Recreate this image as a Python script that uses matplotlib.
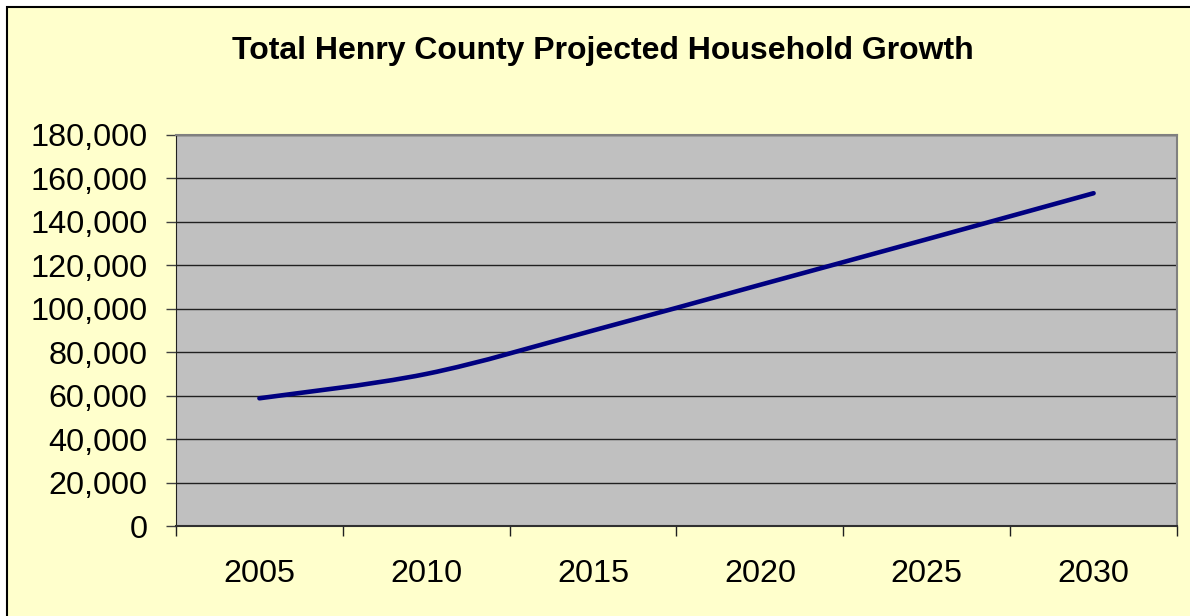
import numpy as np
import matplotlib
matplotlib.use('Agg')
import matplotlib.pyplot as plt
from matplotlib.path import Path
from matplotlib.patches import PathPatch, Rectangle
from matplotlib.ticker import FuncFormatter, FixedLocator

years = ['2005', '2010', '2015', '2020', '2025', '2030']
households = [58800, 70000, 90000, 111000, 132000, 153200]
yticks = list(range(0, 180001, 20000))

plt.rcParams['font.family'] = ['Liberation Sans', 'DejaVu Sans']

fig = plt.figure(figsize=(11.9, 6.16), dpi=100, facecolor='white')
W, H = 1190, 616

# chart area with black edge (only left/top visible, like the cropped original)
fig.patches.append(Rectangle((6.5 / W, -0.05), 1.2, 1 - 7 / H + 0.05,
                             transform=fig.transFigure, facecolor='#FFFFCC',
                             edgecolor='black', linewidth=1.5, zorder=-5))

fig.text(603 / W, 1 - 59.3 / H, 'Total Henry County Projected Household Growth',
         ha='center', va='baseline', fontsize=23, fontweight='bold')

ax = fig.add_axes([176 / W, 1 - 526 / H, (1177 - 176) / W, (526 - 135) / H])
ax.set_zorder(2)
ax.set_facecolor('#C0C0C0')

# smoothed line, Excel style (Catmull-Rom as cubic Bezier)
x = np.arange(len(households), dtype=float)
y = np.array(households, dtype=float)
pts = np.column_stack([x, y])
ext = np.vstack([pts[0], pts, pts[-1]])
verts = [tuple(pts[0])]
codes = [Path.MOVETO]
for i in range(len(pts) - 1):
    p0, p1, p2, p3 = ext[i], ext[i + 1], ext[i + 2], ext[i + 3]
    c1 = p1 + (p2 - p0) / 6
    c2 = p2 - (p3 - p1) / 6
    verts += [tuple(c1), tuple(c2), tuple(p2)]
    codes += [Path.CURVE4] * 3
ax.add_patch(PathPatch(Path(verts, codes), fill=False, edgecolor='#000080',
                       linewidth=3.3, capstyle='round', joinstyle='round', zorder=3))

ax.set_xlim(-0.5, len(years) - 0.5)
ax.set_ylim(0, 180000)
ax.set_yticks(yticks)
ax.yaxis.set_major_formatter(FuncFormatter(lambda v, p: f'{int(v):,}'))
ax.yaxis.grid(True, color='#202020', linewidth=1)
ax.set_axisbelow(True)

ax.set_xticks(x)
ax.set_xticklabels(years)
ax.xaxis.set_minor_locator(FixedLocator(np.arange(-0.5, len(years), 1.0)))
ax.tick_params(axis='x', which='major', length=0, pad=24, labelsize=23.3)
ax.tick_params(axis='x', which='minor', length=7.5, width=1, color='#202020')
ax.tick_params(axis='y', length=7.5, width=1, color='#404040', pad=13, labelsize=23.3)

for side in ['top', 'right']:
    ax.spines[side].set_color('#808080')
    ax.spines[side].set_linewidth(1.5)
ax.spines['left'].set_color('#202020')
ax.spines['bottom'].set_color('#303030')
ax.spines['bottom'].set_linewidth(1.5)

fig.savefig('out.png', dpi=100, facecolor=fig.get_facecolor())
